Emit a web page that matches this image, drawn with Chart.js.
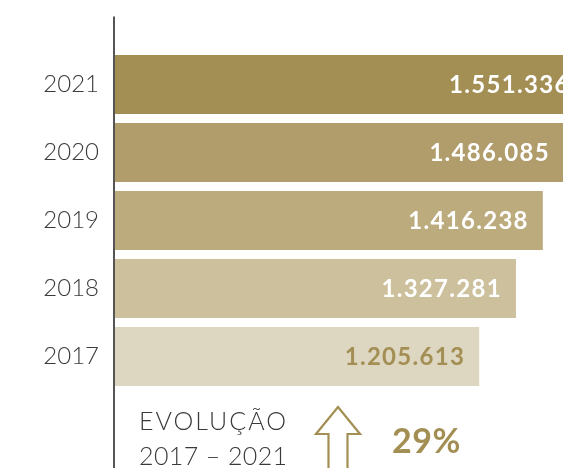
<!DOCTYPE html>
<html>
<head>
<meta charset="utf-8">
<script src="https://cdn.jsdelivr.net/npm/chart.js@4.4.1/dist/chart.umd.min.js"></script>
<style>
  html, body { margin: 0; padding: 0; background: #fff; }
  #wrap { position: relative; width: 563px; height: 468px; overflow: hidden; }
  #chart { position: absolute; left: 0; top: 0; }
  .evo {
    position: absolute; left: 139px; top: 403px;
    font-family: Lato, "Open Sans", sans-serif; font-weight: 300;
    font-size: 25px; line-height: 35px; color: #3a3a3a;
  }
  .evo .l1 { letter-spacing: 2px; }
  .evo .l2 { letter-spacing: 0.4px; }
  .pct {
    position: absolute; left: 392px; top: 420px;
    font-family: Lato, "Open Sans", sans-serif; font-weight: 700;
    font-size: 34px; line-height: 40px; color: #a38f54; letter-spacing: 0.5px;
  }
  #arrow { position: absolute; left: 313px; top: 404px; }
</style>
</head>
<body>
<div id="wrap">
  <canvas id="chart" width="563" height="468"></canvas>
  <div class="evo"><span class="l1">EVOLUÇÃO</span><br><span class="l2">2017 – 2021</span></div>
  <svg id="arrow" width="50" height="70" viewBox="0 0 50 70">
    <path d="M25 3 L47 30 L34.5 30 L34.5 72 L15.5 72 L15.5 30 L3 30 Z"
          fill="none" stroke="#a38f54" stroke-width="2.2" stroke-linejoin="miter"/>
  </svg>
  <div class="pct">29%</div>
</div>
<script>
// --- データ ---
const years = ["2021", "2020", "2019", "2018", "2017"];
const totals = [1551336, 1486085, 1416238, 1327281, 1205613];

// 色（バー / 数値ラベル）
const barColors = ["#a38f54", "#b09d6b", "#bcab7d", "#cdc09d", "#ddd6c0"];
const valueColors = ["#ffffff", "#ffffff", "#ffffff", "#ffffff", "#a38f54"];

// 1.551.336 形式
function fmt(n) {
  return String(n).replace(/\B(?=(\d{3})+(?!\d))/g, ".");
}

// バー右端に数値を描く
const valueLabels = {
  id: "valueLabels",
  afterDatasetsDraw(chart) {
    const ctx = chart.ctx;
    const xs = chart.scales.x;
    const meta = chart.getDatasetMeta(0);
    ctx.save();
    ctx.font = "700 24px Lato, 'Open Sans', sans-serif";
    ctx.letterSpacing = "1.3px";
    ctx.textAlign = "right";
    ctx.textBaseline = "middle";
    meta.data.forEach((bar, i) => {
      const end = xs.getPixelForValue(totals[i]); // クリップ前の本来の端
      ctx.fillStyle = valueColors[i];
      ctx.fillText(fmt(totals[i]), end - 14, bar.y + 1);
    });
    ctx.restore();
  }
};

// 縦の軸線（上下にはみ出す）
const axisLine = {
  id: "axisLine",
  beforeDatasetsDraw(chart) {
    const { ctx, chartArea } = chart;
    ctx.save();
    ctx.strokeStyle = "#555";
    ctx.lineWidth = 2;
    ctx.beginPath();
    ctx.moveTo(chartArea.left - 1, chartArea.top - 34);
    ctx.lineTo(chartArea.left - 1, chart.height);
    ctx.stroke();
    ctx.restore();
  }
};

new Chart(document.getElementById("chart"), {
  type: "bar",
  data: {
    labels: years,
    datasets: [{
      data: totals,
      backgroundColor: barColors,
      borderWidth: 0,
      barPercentage: 59 / 68,
      categoryPercentage: 1
    }]
  },
  options: {
    indexAxis: "y",
    responsive: false,
    animation: false,
    layout: { padding: { top: 50.5, bottom: 77.5, left: 0, right: 0 } },
    plugins: { legend: { display: false }, tooltip: { enabled: false } },
    scales: {
      x: { display: false, min: 0, max: 1483000 },
      y: {
        afterFit: (scale) => { scale.width = 115; },
        grid: { display: false, drawTicks: false },
        border: { display: false },
        ticks: {
          color: "#3a3a3a",
          padding: 16,
          font: { family: "Lato, 'Open Sans', sans-serif", size: 24, weight: 300 }
        }
      }
    }
  },
  plugins: [axisLine, valueLabels]
});
</script>
</body>
</html>
